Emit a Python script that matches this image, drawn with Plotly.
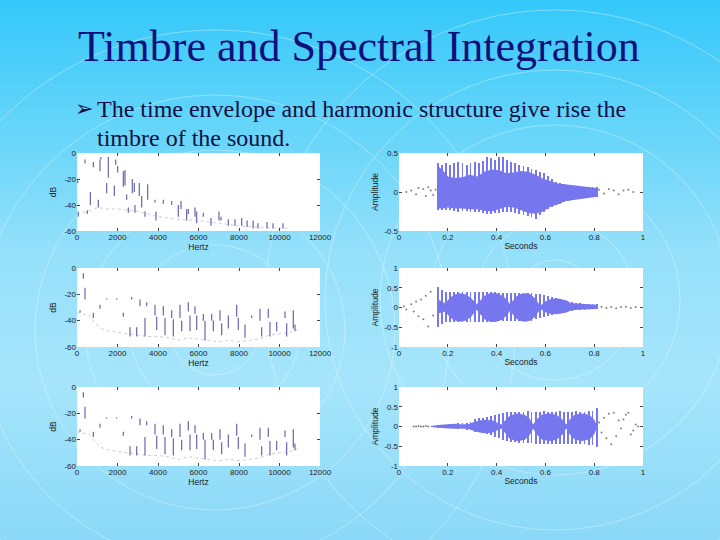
import plotly.graph_objects as go

# ---------------- DATA ----------------
# Spectrum 1 (top-left): harmonic peak segments (Hz, top dB, bottom dB)
spec1_hz = [33, 60, 395, 510, 660, 807, 1054, 1136, 1180, 1465, 1548, 1844, 1910, 2008,
            2288, 2370, 2453, 2535, 2733, 2831, 2864, 3078, 3193, 3358, 3490, 3852, 3901,
            4263, 4675, 5004, 5136, 5415, 5498, 5827, 5909, 6239, 6617, 7012, 7111, 7473,
            7802, 8132, 8400, 8700, 8938, 9383, 9679, 10173]
spec1_top = [-21, -45, -5, -44, -30, -7, -36, -5, -3, -23, -3, -25, -5, -10,
             -14, -13, -32, -42, -20, -23, -40, -23, -33, -45, -24, -36, -45,
             -36, -37, -40, -37, -43, -43, -42, -45, -46, -50, -45, -49, -51,
             -51, -50, -52, -52, -54, -53, -54, -54]
spec1_bot = [-23, -49, -8, -47, -40, -11, -42, -14, -5, -31, -19, -33, -9, -15,
             -26, -25, -36, -46, -31, -30, -46, -33, -42, -49, -36, -38, -52,
             -39, -40, -49, -43, -52, -47, -49, -54, -49, -56, -52, -52, -56,
             -56, -56, -57, -58, -58, -58, -58, -58]
floor1_hz = [0, 500, 1000, 1500, 2000, 2500, 3000, 3500, 4000, 5000, 6000, 7000, 8000, 9000, 10000, 10500]
floor1_db = [-47, -45, -42, -43, -43, -44, -45, -47, -49, -51, -52, -54, -56, -57, -58, -58]

# Spectrum 2 (middle-left and bottom-left, identical)
spec2_hz = [313, 395, 150, 807, 1136, 1465, 1960, 2288, 2617, 2700, 2946, 3111, 3358, 3440,
            3852, 3935, 4263, 4346, 4675, 4757, 5086, 5169, 5498, 5580, 5827, 5909, 6239,
            6321, 6650, 6733, 7062, 7144, 7473, 7885, 7967, 8296, 8626, 9037, 9119, 9447,
            9529, 9860, 10272, 10354, 10683, 10765]
spec2_top = [-4, -15, -32, -34, -28, -23, -23, -34, -45, -22, -45, -24, -38, -26,
             -28, -37, -29, -38, -32, -39, -28, -40, -26, -36, -29, -36, -35,
             -40, -35, -40, -32, -42, -36, -28, -38, -43, -36, -31, -45, -31,
             -41, -41, -33, -42, -32, -43]
spec2_bot = [-8, -24, -34, -38, -31, -24, -24, -37, -52, -24, -52, -29, -52, -29,
             -36, -47, -36, -51, -38, -52, -38, -48, -33, -48, -35, -47, -40,
             -55, -40, -48, -40, -51, -46, -37, -47, -53, -38, -40, -52, -38,
             -52, -48, -38, -52, -46, -48]
floor2_hz = [0, 300, 600, 900, 1200, 1600, 2000, 2500, 3000, 3500, 4000, 4500, 5000, 5500,
             6000, 6500, 7000, 7500, 8000, 8500, 9000, 9500, 10000, 10500, 10900]
floor2_db = [-34, -35, -36, -42, -46, -48, -49, -50, -51, -52, -52, -53, -55, -53,
             -54, -55, -56, -55, -56, -55, -54, -51, -50, -49, -47]

# Pulse (glottal period) times shared by the waveforms (seconds)
pulse_t = [0.160, 0.177, 0.193, 0.210, 0.227, 0.243, 0.260, 0.277, 0.293, 0.310,
           0.327, 0.343, 0.360, 0.377, 0.393, 0.410, 0.427, 0.443, 0.460, 0.477,
           0.493, 0.510, 0.527, 0.543, 0.560, 0.577, 0.593, 0.610, 0.627, 0.643,
           0.660, 0.677, 0.693, 0.710, 0.727, 0.743, 0.760, 0.777, 0.793, 0.810]

# Waveform 1 (top-right)
w1_pulse_top = [0.37, 0.35, 0.37, 0.35, 0.37, 0.38, 0.37, 0.35, 0.37, 0.39,
                0.37, 0.40, 0.45, 0.44, 0.41, 0.45, 0.45, 0.41, 0.38, 0.37,
                0.35, 0.33, 0.32, 0.30, 0.28, 0.26, 0.24, 0.21, 0.17, 0.13,
                0.11, 0.10, 0.09, 0.08, 0.075, 0.07, 0.065, 0.06, 0.06, 0.06]
w1_pulse_bot = [-0.23, -0.23, -0.23, -0.23, -0.24, -0.25, -0.24, -0.24, -0.25, -0.26,
                -0.26, -0.27, -0.28, -0.28, -0.27, -0.27, -0.26, -0.25, -0.26, -0.27,
                -0.28, -0.29, -0.31, -0.32, -0.34, -0.30, -0.26, -0.22, -0.19, -0.17,
                -0.15, -0.13, -0.11, -0.10, -0.09, -0.085, -0.08, -0.07, -0.065, -0.06]
w1_body_t = [0.16, 0.18, 0.20, 0.23, 0.26, 0.29, 0.32, 0.35, 0.38, 0.41, 0.44,
             0.47, 0.50, 0.53, 0.56, 0.59, 0.62, 0.65, 0.68, 0.72, 0.76, 0.81]
w1_body_top = [0.33, 0.28, 0.20, 0.18, 0.19, 0.22, 0.20, 0.26, 0.29, 0.28, 0.24,
               0.25, 0.27, 0.26, 0.22, 0.17, 0.14, 0.11, 0.10, 0.085, 0.07, 0.05]
w1_body_bot = [-0.21, -0.21, -0.20, -0.21, -0.21, -0.22, -0.22, -0.24, -0.25, -0.22, -0.19,
               -0.20, -0.24, -0.27, -0.28, -0.25, -0.19, -0.16, -0.12, -0.10, -0.08, -0.06]
w1_dot_t = [0.03, 0.05, 0.07, 0.08, 0.10, 0.11, 0.12, 0.13, 0.14, 0.15,
            0.82, 0.84, 0.86, 0.88, 0.90, 0.92, 0.94, 0.96]
w1_dot_a = [0.0, 0.02, -0.03, 0.05, 0.04, -0.05, 0.06, 0.02, -0.04, 0.03,
            0.03, -0.02, 0.04, 0.02, -0.03, 0.02, 0.03, 0.0]

# Waveform 2 (middle-right)
w2_pulse_top = [0.53, 0.45, 0.40, 0.40, 0.40, 0.40, 0.40, 0.40, 0.40, 0.40,
                0.40, 0.40, 0.40, 0.40, 0.40, 0.37, 0.37, 0.37, 0.37, 0.37,
                0.37, 0.37, 0.37, 0.37, 0.33, 0.33, 0.31, 0.29, 0.26, 0.23,
                0.20, 0.17, 0.15, 0.13, 0.12, 0.11, 0.10, 0.09, 0.085, 0.08]
w2_pulse_bot = [-0.50, -0.42, -0.36, -0.36, -0.36, -0.36, -0.36, -0.36, -0.36, -0.36,
                -0.36, -0.36, -0.36, -0.36, -0.36, -0.35, -0.35, -0.35, -0.35, -0.35,
                -0.35, -0.35, -0.35, -0.33, -0.30, -0.27, -0.24, -0.21, -0.19, -0.16,
                -0.13, -0.11, -0.10, -0.08, -0.07, -0.06, -0.06, -0.05, -0.05, -0.04]
w2_body_t = [0.160, 0.175, 0.190, 0.205, 0.225, 0.250, 0.275, 0.295, 0.310, 0.318, 0.330,
             0.350, 0.375, 0.400, 0.425, 0.445, 0.455, 0.465, 0.480, 0.500, 0.520, 0.540,
             0.560, 0.572, 0.582, 0.600, 0.620, 0.640, 0.660, 0.690, 0.705, 0.730, 0.760,
             0.790, 0.812]
w2_body_top = [0.20, 0.15, 0.10, 0.22, 0.32, 0.36, 0.33, 0.24, 0.12, 0.08, 0.15,
               0.30, 0.37, 0.36, 0.30, 0.18, 0.08, 0.15, 0.28, 0.35, 0.36, 0.33,
               0.22, 0.10, 0.06, 0.15, 0.21, 0.23, 0.22, 0.17, 0.11, 0.10, 0.09,
               0.08, 0.07]
w2_body_bot = [-0.15, -0.12, -0.10, -0.22, -0.32, -0.36, -0.33, -0.24, -0.12, -0.06, -0.15,
               -0.30, -0.37, -0.36, -0.30, -0.18, -0.08, -0.15, -0.28, -0.35, -0.36, -0.33,
               -0.22, -0.10, -0.05, -0.12, -0.16, -0.17, -0.16, -0.12, -0.07, -0.06, -0.05,
               -0.05, -0.04]
w2_dot_t = [0.02, 0.03, 0.05, 0.06, 0.07, 0.08, 0.09, 0.10, 0.11, 0.12, 0.13, 0.14,
            0.83, 0.85, 0.87, 0.89, 0.91, 0.93, 0.95, 0.97]
w2_dot_a = [0.03, -0.05, 0.08, -0.10, 0.15, -0.22, 0.20, -0.30, 0.30, -0.48, 0.40, -0.20,
            0.02, -0.01, 0.01, -0.02, 0.01, 0.02, -0.01, 0.01]

# Waveform 3 (bottom-right)
w3_pulse_top = [0.04, 0.05, 0.05, 0.06, 0.07, 0.08, 0.09, 0.10, 0.12, 0.20,
                0.21, 0.22, 0.24, 0.26, 0.28, 0.31, 0.34, 0.37, 0.37, 0.37,
                0.37, 0.37, 0.38, 0.37, 0.37, 0.37, 0.38, 0.37, 0.37, 0.37,
                0.38, 0.37, 0.37, 0.37, 0.38, 0.37, 0.37, 0.38, 0.38, 0.46]
w3_pulse_bot = [-0.03, -0.04, -0.04, -0.05, -0.05, -0.06, -0.07, -0.08, -0.10, -0.13,
                -0.14, -0.16, -0.18, -0.22, -0.27, -0.30, -0.33, -0.36, -0.38, -0.40,
                -0.42, -0.43, -0.43, -0.43, -0.44, -0.44, -0.44, -0.44, -0.44, -0.45,
                -0.45, -0.45, -0.45, -0.45, -0.45, -0.45, -0.45, -0.46, -0.47, -0.51]
w3_body_t = [0.130, 0.160, 0.200, 0.230, 0.260, 0.290, 0.310, 0.335, 0.360, 0.385, 0.405,
             0.420, 0.435, 0.455, 0.485, 0.515, 0.535, 0.550, 0.565, 0.585, 0.615, 0.645,
             0.670, 0.686, 0.700, 0.720, 0.750, 0.780, 0.800, 0.810]
w3_body_top = [0.01, 0.04, 0.06, 0.07, 0.05, 0.07, 0.12, 0.16, 0.17, 0.15, 0.09,
               0.05, 0.15, 0.28, 0.33, 0.30, 0.20, 0.06, 0.18, 0.30, 0.33, 0.30,
               0.18, 0.05, 0.18, 0.30, 0.33, 0.30, 0.18, 0.04]
w3_body_bot = [-0.01, -0.03, -0.05, -0.06, -0.05, -0.07, -0.12, -0.16, -0.17, -0.15, -0.09,
               -0.05, -0.18, -0.32, -0.37, -0.34, -0.22, -0.06, -0.20, -0.33, -0.37, -0.34,
               -0.20, -0.05, -0.20, -0.33, -0.37, -0.33, -0.20, -0.04]
w3_dot_t = [0.06, 0.07, 0.08, 0.09, 0.10, 0.11, 0.12,
            0.82, 0.83, 0.84, 0.85, 0.86, 0.87, 0.88, 0.89, 0.90, 0.91, 0.92, 0.93,
            0.94, 0.95, 0.96, 0.97, 0.98]
w3_dot_a = [0.0, 0.0, 0.01, 0.0, 0.0, 0.01, 0.0,
            0.10, -0.15, 0.22, -0.30, 0.32, -0.45, 0.35, -0.25, 0.15, -0.05, 0.18, 0.30,
            0.35, -0.20, -0.10, 0.05, 0.0]

hz_ticks = [0, 2000, 4000, 6000, 8000, 10000, 12000]
db_ticks = [-60, -40, -20, 0]
sec_ticks = [0, 0.2, 0.4, 0.6, 0.8, 1]
sec_labels = ["0", "0.2", "0.4", "0.6", "0.8", "1"]

title_text = "Timbre and Spectral Integration"
bullet_line1 = "The time envelope and harmonic structure give rise the"
bullet_line2 = "timbre of the sound."

# ---------------- FIGURE ----------------
W, H = 720, 540
SPEC_COLOR = "#6c6cb0"
WAVE_COLOR = "#7676ee"

fig = go.Figure()


def stems(f, top, bot):
    xs, ys = [], []
    for a, b, c in zip(f, top, bot):
        xs += [a, a, None]
        ys += [b, c, None]
    return xs, ys


def add_spectrum(ax, f, top, bot, ff, fd):
    xa, ya = ("x", "y") if ax == 1 else (f"x{ax}", f"y{ax}")
    fig.add_trace(go.Scatter(x=ff, y=fd, mode="lines", xaxis=xa, yaxis=ya,
                             line=dict(color="rgba(108,108,176,0.35)", width=1, dash="dot"),
                             hoverinfo="skip", showlegend=False))
    xs, ys = stems(f, top, bot)
    fig.add_trace(go.Scatter(x=xs, y=ys, mode="lines", xaxis=xa, yaxis=ya,
                             line=dict(color=SPEC_COLOR, width=1.25),
                             hoverinfo="skip", showlegend=False))


def add_wave(ax, pt, ptop, pbot, bt, btop, bbot, dt, da):
    xa, ya = f"x{ax}", f"y{ax}"
    fig.add_trace(go.Scatter(x=dt, y=da, mode="markers", xaxis=xa, yaxis=ya,
                             marker=dict(color="#808080", size=2),
                             hoverinfo="skip", showlegend=False))
    fig.add_trace(go.Scatter(x=list(bt) + list(bt)[::-1], y=list(btop) + list(bbot)[::-1],
                             mode="lines", fill="toself", fillcolor=WAVE_COLOR,
                             line=dict(width=0, color=WAVE_COLOR), xaxis=xa, yaxis=ya,
                             hoverinfo="skip", showlegend=False))
    fig.add_trace(go.Bar(x=pt, y=[a - b for a, b in zip(ptop, pbot)], base=pbot,
                         width=0.0075, marker=dict(color=WAVE_COLOR, line=dict(width=0)),
                         xaxis=xa, yaxis=ya, hoverinfo="skip", showlegend=False))


add_spectrum(1, spec1_hz, spec1_top, spec1_bot, floor1_hz, floor1_db)
add_wave(2, pulse_t, w1_pulse_top, w1_pulse_bot, w1_body_t, w1_body_top, w1_body_bot, w1_dot_t, w1_dot_a)
add_spectrum(3, spec2_hz, spec2_top, spec2_bot, floor2_hz, floor2_db)
add_wave(4, pulse_t, w2_pulse_top, w2_pulse_bot, w2_body_t, w2_body_top, w2_body_bot, w2_dot_t, w2_dot_a)
add_spectrum(5, spec2_hz, spec2_top, spec2_bot, floor2_hz, floor2_db)
add_wave(6, pulse_t, w3_pulse_top, w3_pulse_bot, w3_body_t, w3_body_top, w3_body_bot, w3_dot_t, w3_dot_a)

TICKFONT = dict(family="Liberation Sans, Arial", size=8, color="#222")
TITLEFONT = dict(family="Liberation Sans, Arial", size=8.5, color="#222")

left_dom = [77 / W, 320 / W]
right_dom = [399 / W, 643 / W]
rows = [[1 - 231 / H, 1 - 153 / H], [1 - 347 / H, 1 - 268 / H], [1 - 466 / H, 1 - 387 / H]]


def axis_common(**kw):
    d = dict(showgrid=False, zeroline=False, showline=False, ticks="inside", ticklen=3,
             tickcolor="#444", tickwidth=1, mirror="ticks", tickfont=TICKFONT,
             fixedrange=True, automargin=False)
    d.update(kw)
    return d


layout_axes = {}
for i in range(6):
    n = i + 1
    row = i // 2
    left = (i % 2 == 0)
    xk = "xaxis" if n == 1 else f"xaxis{n}"
    yk = "yaxis" if n == 1 else f"yaxis{n}"
    anchor_x = "y" if n == 1 else f"y{n}"
    anchor_y = "x" if n == 1 else f"x{n}"
    if left:
        layout_axes[xk] = axis_common(domain=left_dom, anchor=anchor_x, range=[0, 12000],
                                      tickvals=hz_ticks, ticktext=[str(v) for v in hz_ticks],
                                      title=dict(text="Hertz", font=TITLEFONT, standoff=2))
        layout_axes[yk] = axis_common(domain=rows[row], anchor=anchor_y, range=[-60, 0],
                                      tickvals=db_ticks, ticktext=[str(v) for v in db_ticks],
                                      title=dict(text="dB", font=TITLEFONT, standoff=6))
    else:
        layout_axes[xk] = axis_common(domain=right_dom, anchor=anchor_x, range=[0, 1],
                                      tickvals=sec_ticks, ticktext=sec_labels,
                                      title=dict(text="Seconds", font=TITLEFONT, standoff=2))
        if row == 0:
            yr, yt, ytt = [-0.5, 0.5], [-0.5, 0, 0.5], ["-0.5", "0", "0.5"]
        else:
            yr, yt, ytt = [-1, 1], [-1, -0.5, 0, 0.5, 1], ["-1", "-0.5", "0", "0.5", "1"]
        layout_axes[yk] = axis_common(domain=rows[row], anchor=anchor_y, range=yr,
                                      tickvals=yt, ticktext=ytt,
                                      title=dict(text="Amplitude", font=TITLEFONT, standoff=4))

# background gradient (decorative)
stops = [(0, (52, 200, 250)), (120, (98, 212, 250)), (250, (148, 224, 250)),
         (380, (166, 229, 251)), (540, (138, 216, 248))]


def col_at(py):
    for (y0, c0), (y1, c1) in zip(stops[:-1], stops[1:]):
        if y0 <= py <= y1:
            f = (py - y0) / (y1 - y0)
            return tuple(round(c0[k] + (c1[k] - c0[k]) * f) for k in range(3))
    return stops[-1][1]


shapes = []
step = 6
for py in range(0, H, step):
    c = col_at(py + step / 2)
    shapes.append(dict(type="rect", xref="paper", yref="paper", x0=0, x1=1,
                       y0=1 - (py + step + 0.5) / H, y1=1 - py / H, layer="below",
                       line=dict(width=0), fillcolor=f"rgb{c}"))

for cx, cy, radii in [(215, 330, [45, 85, 130, 180, 235, 300]),
                      (555, 300, [40, 80, 125, 175, 230, 290])]:
    for r in radii:
        shapes.append(dict(type="circle", xref="paper", yref="paper",
                           x0=(cx - r) / W, x1=(cx + r) / W,
                           y0=1 - (cy + r) / H, y1=1 - (cy - r) / H, layer="below",
                           line=dict(color="rgba(235,250,255,0.4)", width=1)))

# white plot panels above the background
for dom in (left_dom, right_dom):
    for r in rows:
        shapes.append(dict(type="rect", xref="paper", yref="paper", x0=dom[0], x1=dom[1],
                           y0=r[0], y1=r[1], layer="below", line=dict(width=0),
                           fillcolor="white"))

annotations = [
    dict(text=title_text, x=359 / W, y=1 - 47 / H, xref="paper", yref="paper",
         xanchor="center", yanchor="middle", showarrow=False,
         font=dict(family="Liberation Serif, Times New Roman", size=44, color="#10107a")),
    dict(text="\u27a2", x=73 / W, y=1 - 109 / H, xref="paper", yref="paper",
         xanchor="left", yanchor="middle", showarrow=False,
         font=dict(family="DejaVu Sans", size=22, color="#101045")),
    dict(text=bullet_line1, x=95 / W, y=1 - 109 / H, xref="paper", yref="paper",
         xanchor="left", yanchor="middle", showarrow=False,
         font=dict(family="Liberation Serif, Times New Roman", size=24, color="#101045")),
    dict(text=bullet_line2, x=95 / W, y=1 - 138 / H, xref="paper", yref="paper",
         xanchor="left", yanchor="middle", showarrow=False,
         font=dict(family="Liberation Serif, Times New Roman", size=24, color="#101045")),
]

fig.update_layout(width=W, height=H, margin=dict(l=0, r=0, t=0, b=0, pad=0, autoexpand=False),
                  paper_bgcolor="#8fd8f8", plot_bgcolor="white",
                  showlegend=False, bargap=0, shapes=shapes, annotations=annotations,
                  **layout_axes)

fig.write_html(
    "out.html",
    config={"displayModeBar": False, "staticPlot": True},
    post_script=("document.documentElement.style.margin='0';"
                 "document.documentElement.style.overflow='hidden';"
                 "document.body.style.margin='0';"
                 "document.body.style.overflow='hidden';"),
)
